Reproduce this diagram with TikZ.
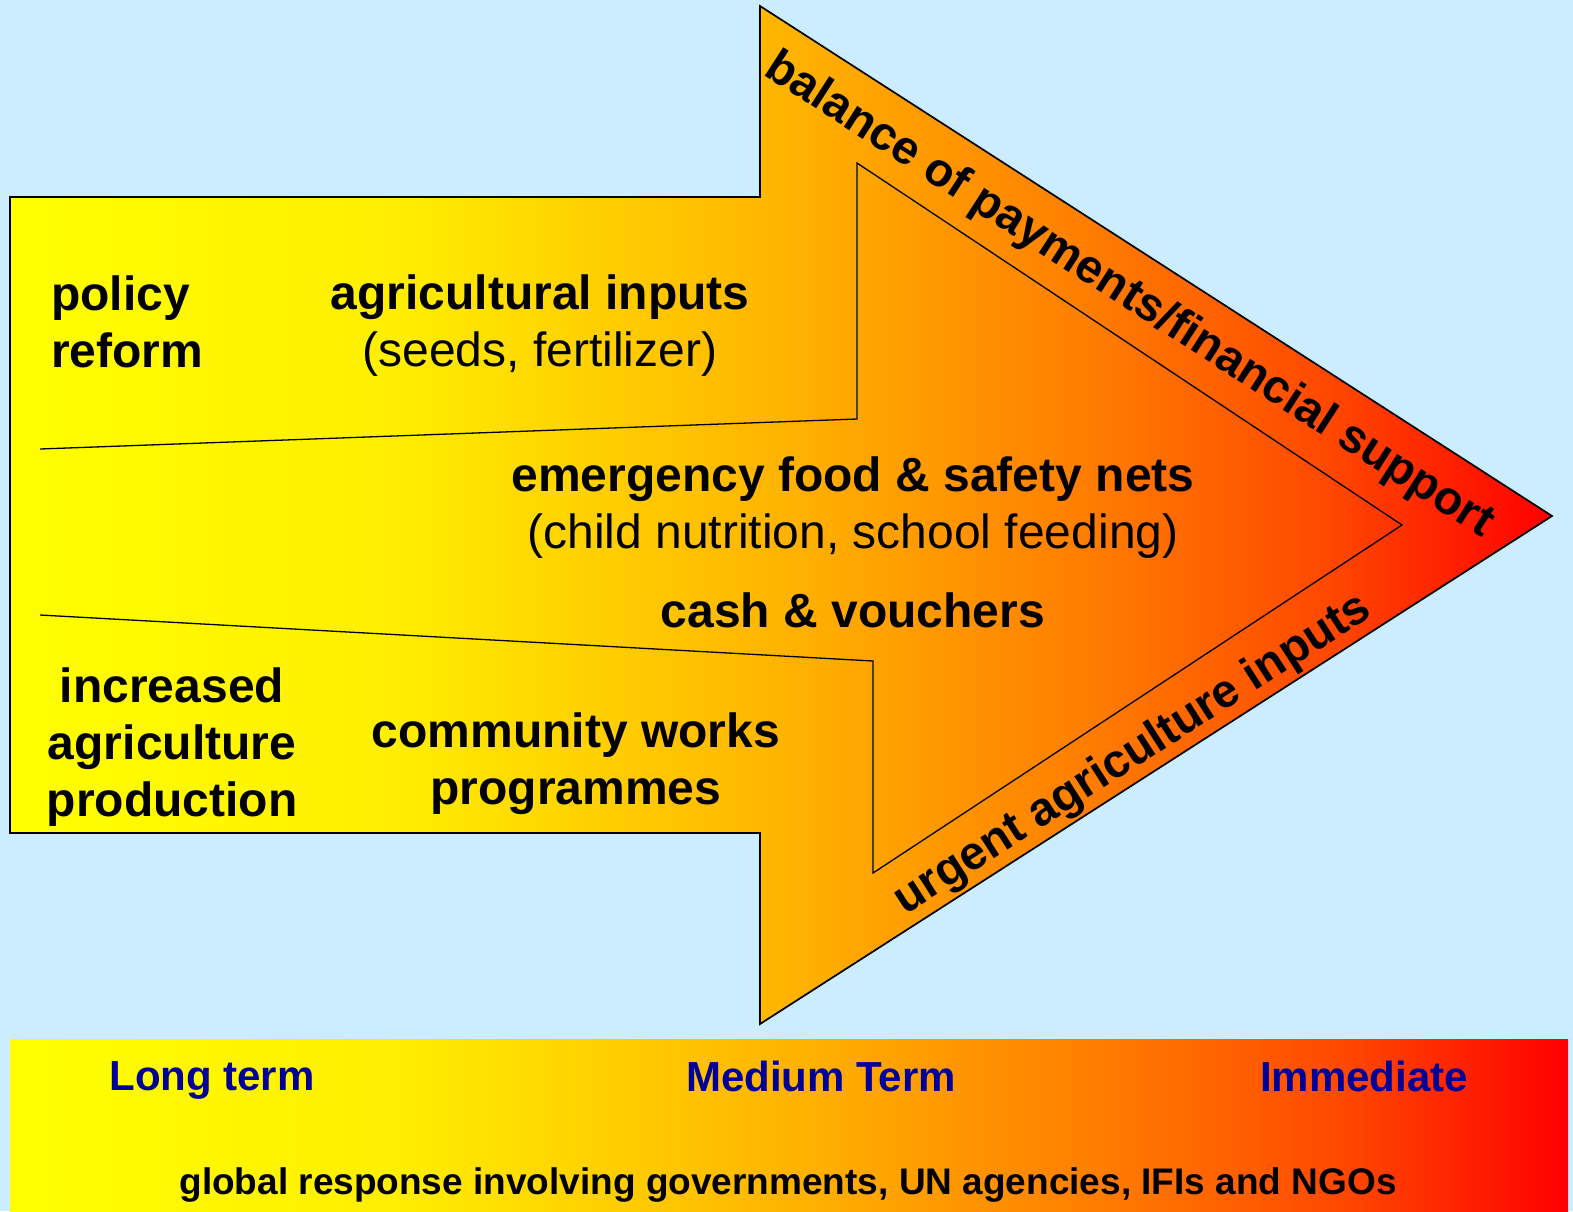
\documentclass[tikz,border=0pt]{standalone}
\usepackage{fontspec}
\setmainfont{Liberation Sans}
\usetikzlibrary{calc}

\definecolor{sky}{RGB}{204,236,255}
\definecolor{termblue}{RGB}{0,0,153}
\definecolor{lemon}{RGB}{255,238,0}
\definecolor{amber}{RGB}{255,180,0}
\definecolor{tangerine}{RGB}{255,125,0}
\definecolor{vermil}{RGB}{255,70,0}
% yellow -> orange -> red, left to right (box maps to 25bp..75bp)
\pgfdeclarehorizontalshading{urgency}{100bp}{color(0bp)=(yellow); color(25bp)=(yellow);
  color(37.5bp)=(lemon); color(50bp)=(amber); color(60bp)=(tangerine);
  color(68bp)=(vermil); color(75bp)=(red); color(100bp)=(red)}

\tikzset{
  heading/.style = {font=\fontsize{48}{57}\selectfont\bfseries, align=center, inner sep=0pt},
  edgetext/.style = {heading, font=\fontsize{47}{57}\selectfont\bfseries},
  term/.style    = {font=\fontsize{42}{50}\selectfont\bfseries, text=termblue, inner sep=0pt},
}

\begin{document}
\begin{tikzpicture}[x=1pt, y=-1pt]
  % background
  \path[fill=sky, use as bounding box](0,0)rectangle(1573,1211);

  % big arrow
  \coordinate(tailTop)at(10,197);
  \coordinate(neckTop)at(760,197);
  \coordinate(barbTop)at(760,6);
  \coordinate(tip)at(1552,516);
  \coordinate(barbBot)at(760,1024);
  \coordinate(neckBot)at(760,833);
  \coordinate(tailBot)at(10,833);
  \path[draw, line width=1.7pt, shading=urgency](tailTop)--(neckTop)--(barbTop)--(tip)
      --(barbBot)--(neckBot)--(tailBot)--cycle;

  % inner chevron
  \coordinate(upLeft)at(40,449);
  \coordinate(upStep)at(857,419);
  \coordinate(upBarb)at(857,163);
  \coordinate(inTip)at(1402,525);
  \coordinate(loBarb)at(873,873);
  \coordinate(loStep)at(873,661);
  \coordinate(loLeft)at(40,615);
  \path[draw, line width=1.3pt](upLeft)--(upStep)--(upBarb)--(inTip)--(loBarb)--(loStep)--(loLeft);

  % texts in the arrow
  \node[heading, align=left, anchor=west](policy)at(51,322){policy\\reform};
  \node[heading](inputs)at(540,326){agricultural inputs\\{\mdseries (seeds, fertilizer)}};
  \node[heading](emergency)at(853,508){emergency food \& safety nets\\{\mdseries (child nutrition, school feeding)}};
  \node[heading](cash)at(853,610){cash \& vouchers};
  \node[heading](production)at(172,747){increased\\agriculture\\production};
  \node[heading](works)at(576,764){community works\\programmes};
  \node[edgetext, rotate=-32.8](balance)at(1129,296){balance of payments/financial support};
  \node[edgetext, rotate=32.7](urgent)at(1133,755){urgent agriculture inputs};

  % time scale
  \coordinate(barNW)at(10,1039);
  \coordinate(barSE)at(1568,1211);
  \path[shading=urgency](barNW)rectangle(barSE);
  \node[term](longterm)at(212,1080){Long term};
  \node[term](medium)at(821,1076){Medium Term};
  \node[term](immediate)at(1364,1076){Immediate};
  \node[font=\fontsize{37}{44}\selectfont\bfseries, inner sep=0pt](global)at(788,1185)
      {global response involving governments, UN agencies, IFIs and NGOs};
\end{tikzpicture}
\end{document}
